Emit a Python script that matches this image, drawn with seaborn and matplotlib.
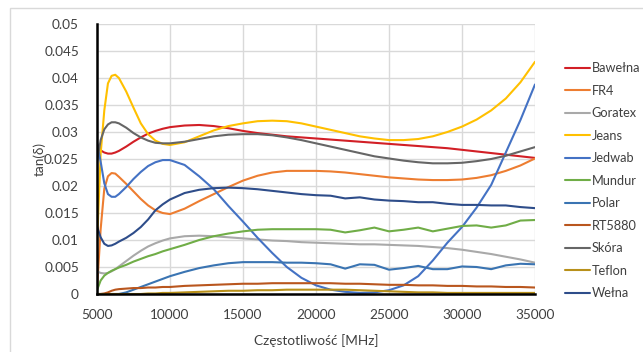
import matplotlib
matplotlib.use("Agg")
import matplotlib.pyplot as plt
from matplotlib.patches import Rectangle
from matplotlib.lines import Line2D
import seaborn as sns
import pandas as pd

freq = [5000, 5250, 5500, 5750, 6000, 6250, 6500, 7000, 7500, 8000, 8500, 9000, 9500,
        10000, 11000, 12000, 13000, 14000, 15000, 16000, 17000, 18000, 19000, 20000,
        21000, 22000, 23000, 24000, 25000, 26000, 27000, 28000, 29000, 30000, 31000,
        32000, 33000, 34000, 35000]

bawelna = [0.0278, 0.0266, 0.0262, 0.0260, 0.0260, 0.0262, 0.0265, 0.0273, 0.0282, 0.0290, 0.0297, 0.0302, 0.0306,
           0.0309, 0.0312, 0.0313, 0.0311, 0.0307, 0.0302, 0.0298, 0.0295, 0.0292, 0.0290, 0.0288,
           0.0286, 0.0284, 0.0282, 0.0280, 0.0278, 0.0276, 0.0274, 0.0272, 0.0270, 0.0267, 0.0264,
           0.0261, 0.0258, 0.0255, 0.0252]
fr4 = [0.0008, 0.0120, 0.0195, 0.0218, 0.0224, 0.0223, 0.0217, 0.0204, 0.0190, 0.0176, 0.0164, 0.0155, 0.0150,
       0.0148, 0.0158, 0.0172, 0.0185, 0.0198, 0.0210, 0.0219, 0.0225, 0.0228, 0.0228, 0.0228,
       0.0227, 0.0225, 0.0222, 0.0219, 0.0216, 0.0214, 0.0212, 0.0211, 0.0211, 0.0212, 0.0215,
       0.0220, 0.0228, 0.0238, 0.0251]
goratex = [0.0042, 0.0039, 0.0038, 0.0039, 0.0042, 0.0046, 0.0051, 0.0061, 0.0071, 0.0080, 0.0088, 0.0094, 0.0099,
           0.0103, 0.0107, 0.0108, 0.0107, 0.0105, 0.0103, 0.0101, 0.0099, 0.0098, 0.0096, 0.0095,
           0.0094, 0.0093, 0.0092, 0.0092, 0.0091, 0.0090, 0.0089, 0.0087, 0.0085, 0.0082, 0.0078,
           0.0074, 0.0069, 0.0064, 0.0058]
jeans = [0.0090, 0.0260, 0.0340, 0.0390, 0.0404, 0.0406, 0.0400, 0.0375, 0.0345, 0.0316, 0.0296, 0.0284, 0.0278,
         0.0276, 0.0281, 0.0292, 0.0303, 0.0311, 0.0316, 0.0320, 0.0321, 0.0320, 0.0316, 0.0310,
         0.0304, 0.0298, 0.0292, 0.0288, 0.0285, 0.0285, 0.0287, 0.0292, 0.0300, 0.0310, 0.0323,
         0.0340, 0.0362, 0.0392, 0.0430]
jedwab = [0.0282, 0.0245, 0.0205, 0.0185, 0.0180, 0.0180, 0.0185, 0.0198, 0.0213, 0.0226, 0.0237, 0.0244, 0.0248,
          0.0248, 0.0239, 0.0218, 0.0194, 0.0163, 0.0134, 0.0104, 0.0076, 0.0050, 0.0030, 0.0016,
          0.0008, 0.0004, 0.0002, 0.0003, 0.0007, 0.0016, 0.0033, 0.0062, 0.0095, 0.0124, 0.0160,
          0.0202, 0.0262, 0.0322, 0.0388]
mundur = [0.0007, 0.0025, 0.0034, 0.0039, 0.0043, 0.0046, 0.0049, 0.0054, 0.0060, 0.0065, 0.0070, 0.0074, 0.0079,
          0.0083, 0.0091, 0.0100, 0.0107, 0.0112, 0.0116, 0.0119, 0.0120, 0.0120, 0.0120, 0.0120,
          0.0119, 0.0114, 0.0118, 0.0123, 0.0116, 0.0119, 0.0123, 0.0116, 0.0121, 0.0126, 0.0127,
          0.0123, 0.0127, 0.0136, 0.0137]
polar = [0.0, 0.0, 0.0, 0.0, 0.0, 0.0, 0.0, 0.0003, 0.0008, 0.0013, 0.0018, 0.0023, 0.0028,
         0.0033, 0.0041, 0.0048, 0.0053, 0.0057, 0.0059, 0.0059, 0.0059, 0.0058, 0.0058, 0.0057,
         0.0055, 0.0047, 0.0055, 0.0054, 0.0045, 0.0048, 0.0052, 0.0046, 0.0046, 0.0051, 0.0050,
         0.0046, 0.0053, 0.0056, 0.0055]
rt5880 = [0.0, 0.0, 0.0001, 0.0003, 0.0006, 0.0008, 0.0009, 0.0010, 0.0011, 0.0011, 0.0012, 0.0012, 0.0013,
          0.0013, 0.0015, 0.0016, 0.0017, 0.0018, 0.0019, 0.0019, 0.0020, 0.0020, 0.0020, 0.0020,
          0.0020, 0.0019, 0.0019, 0.0018, 0.0017, 0.0017, 0.0016, 0.0016, 0.0015, 0.0015, 0.0014,
          0.0014, 0.0013, 0.0013, 0.0012]
skora = [0.0245, 0.0285, 0.0305, 0.0314, 0.0318, 0.0318, 0.0316, 0.0308, 0.0298, 0.0290, 0.0284, 0.0280, 0.0279,
         0.0279, 0.0282, 0.0287, 0.0292, 0.0295, 0.0296, 0.0296, 0.0294, 0.0290, 0.0285, 0.0279,
         0.0273, 0.0267, 0.0261, 0.0255, 0.0251, 0.0247, 0.0244, 0.0242, 0.0242, 0.0243, 0.0246,
         0.0250, 0.0256, 0.0264, 0.0272]
teflon = [0.0, 0.0, 0.0, 0.0, 0.0, 0.0, 0.0, 0.0, 0.0, 0.0, 0.0001, 0.0001, 0.0002,
          0.0002, 0.0003, 0.0004, 0.0005, 0.0006, 0.0006, 0.0007, 0.0007, 0.0008, 0.0008, 0.0008,
          0.0008, 0.0008, 0.0007, 0.0006, 0.0005, 0.0004, 0.0003, 0.0003, 0.0002, 0.0002, 0.0002,
          0.0002, 0.0002, 0.0002, 0.0002]
welna = [0.0125, 0.0105, 0.0093, 0.0089, 0.0090, 0.0093, 0.0097, 0.0104, 0.0113, 0.0124, 0.0138, 0.0155, 0.0166,
         0.0175, 0.0187, 0.0193, 0.0196, 0.0197, 0.0196, 0.0194, 0.0191, 0.0188, 0.0185, 0.0183,
         0.0182, 0.0177, 0.0179, 0.0175, 0.0173, 0.0172, 0.0170, 0.0170, 0.0167, 0.0165, 0.0165,
         0.0164, 0.0164, 0.0161, 0.0159]

series_names = ["Bawełna", "FR4", "Goratex", "Jeans", "Jedwab", "Mundur",
                "Polar", "RT5880", "Skóra", "Teflon", "Wełna"]
series_values = [bawelna, fr4, goratex, jeans, jedwab, mundur,
                 polar, rt5880, skora, teflon, welna]
colors = ["#D21F26", "#ED7D31", "#A9A9A9", "#FFC000", "#4472C4", "#70AD47",
          "#3A74B2", "#B9561E", "#666666", "#B8901A", "#2E4D8A"]

xticks = [5000, 10000, 15000, 20000, 25000, 30000, 35000]
yticks = [0, 0.005, 0.01, 0.015, 0.02, 0.025, 0.03, 0.035, 0.04, 0.045, 0.05]
ytick_labels = ["0", "0.005", "0.01", "0.015", "0.02", "0.025", "0.03", "0.035", "0.04", "0.045", "0.05"]

rows = []
for name, vals in zip(series_names, series_values):
    for f, v in zip(freq, vals):
        rows.append({"freq": f, "tan": v, "material": name})
df = pd.DataFrame(rows)

sns.set_theme(style="white")
plt.rcParams["font.family"] = ["Lato", "DejaVu Sans"]

W, H = 643, 352
fig = plt.figure(figsize=(W / 100, H / 100), dpi=100)
ax = fig.add_axes([97 / W, 1 - 294 / H, (535 - 97) / W, (294 - 24) / H])

palette = dict(zip(series_names, colors))
sns.lineplot(data=df, x="freq", y="tan", hue="material", hue_order=series_names,
             palette=palette, ax=ax, linewidth=1.5, sort=False, legend=False)

ax.set_xlim(5000, 35000)
ax.set_ylim(0, 0.05)
ax.set_xticks(xticks)
ax.set_xticklabels([str(t) for t in xticks])
ax.set_yticks(yticks)
ax.set_yticklabels(ytick_labels)
ax.grid(True, color="#D9D9D9", linewidth=1.0)
ax.set_axisbelow(True)
for s in ["top", "right"]:
    ax.spines[s].set_visible(False)
for s in ["left", "bottom"]:
    ax.spines[s].set_color("black")
    ax.spines[s].set_linewidth(1.8)
    ax.spines[s].set_zorder(5)
ax.tick_params(axis="both", length=0, labelsize=9.8, colors="#404040")
ax.tick_params(axis="y", pad=13)
ax.tick_params(axis="x", pad=11)
ax.set_xlabel("Częstotliwość [MHz]", fontsize=9.8, color="#404040", labelpad=9)
ax.set_ylabel("tan(δ)", fontsize=9.8, color="#404040", labelpad=-1.5)

handles = [Line2D([0], [0], color=c, lw=1.5) for c in colors]
fig.legend(handles, series_names, loc="upper left", bbox_to_anchor=(559 / W, 1 - 56 / H),
           frameon=False, fontsize=9.2, handlelength=1.9, handletextpad=0.15,
           labelspacing=0.82, borderpad=0, labelcolor="#404040")

fig.patches.append(Rectangle((10 / W, -0.1), 1.0, (352 - 8) / H + 0.1, transform=fig.transFigure,
                             fill=False, edgecolor="#D9D9D9", linewidth=1.0))

fig.savefig("out.png", dpi=100, facecolor="white")
